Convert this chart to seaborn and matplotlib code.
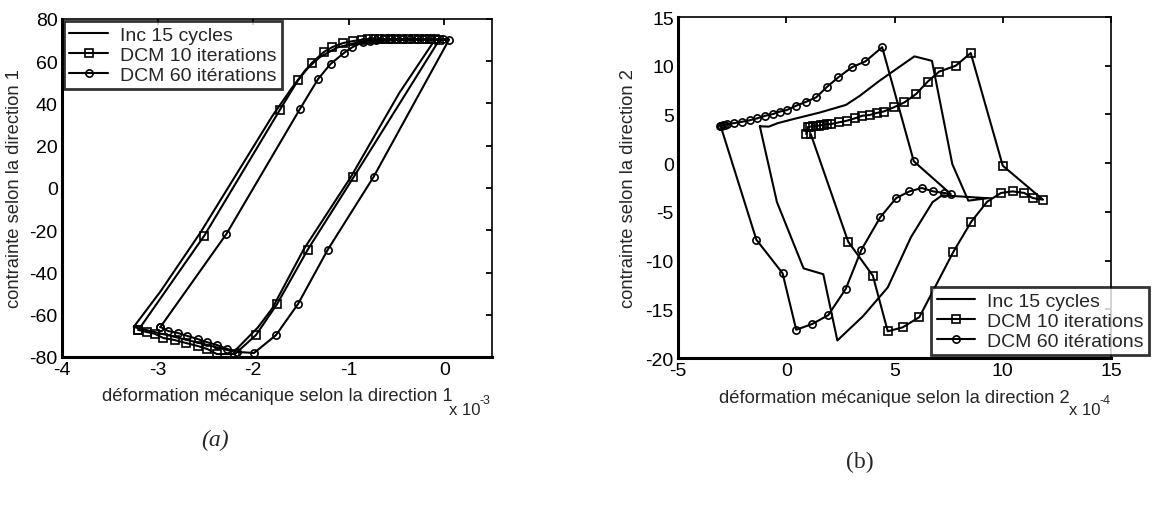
"""Hysteresis loops: incremental vs DCM, directions 1 and 2"""

import numpy as np
import pandas as pd
import matplotlib
matplotlib.use('Agg')
import matplotlib.pyplot as plt
import seaborn as sns

sns.set_style('white')
plt.rcParams['font.family'] = ['Liberation Sans', 'DejaVu Sans']
plt.rcParams['axes.unicode_minus'] = False

labels = ['Inc 15 cycles', 'DCM 10 iterations', 'DCM 60 itérations']

# direction 1 (strain in 1e-3, stress)
inc1_x = [-0.10, -0.47, -0.98, -1.47, -1.80, -1.95, -2.20, -2.70, -3.25, -2.97,
          -2.55, -2.10, -1.80, -1.60, -1.45, -1.30, -1.12, -0.90, -0.50, 0.05, -0.10]
inc1_y = [70, 45, 5, -29, -57, -66, -77.5, -71.8, -65.8, -49,
          -21, 12, 34, 47, 56, 62, 66.5, 69, 70, 70.3, 70]

dcm10_1_x = [-3.20, -2.51, -1.72, -1.53, -1.385, -1.26, -1.17, -1.06, -0.95, -0.86,
             -0.80, -0.74, -0.68, -0.62, -0.56, -0.50, -0.44, -0.38, -0.32, -0.26,
             -0.20, -0.15, -0.10, -0.05, -0.95, -1.43, -1.75, -1.97, -2.19, -2.38,
             -2.48, -2.58, -2.70, -2.82, -2.94, -3.03, -3.11, -3.20]
dcm10_1_y = [-67.2, -22.5, 37, 51, 59.2, 64.4, 66.7, 68.6, 69.6, 70.1,
             70.3, 70.4, 70.5, 70.5, 70.5, 70.5, 70.5, 70.5, 70.5, 70.5,
             70.4, 70.4, 70.3, 70.2, 5, -29.3, -55, -69.6, -78.6, -78.6,
             -76.2, -74.8, -73.4, -72, -71, -69, -68.2, -67.2]

dcm60_1_x = [-2.97, -2.28, -1.51, -1.32, -1.19, -1.05, -0.96, -0.85, -0.78, -0.71,
             -0.64, -0.57, -0.50, -0.43, -0.36, -0.29, -0.22, -0.15, -0.08, -0.01,
             0.05, -0.74, -1.22, -1.53, -1.76, -1.99, -2.17, -2.27, -2.38, -2.48,
             -2.58, -2.69, -2.79, -2.89, -2.97]
dcm60_1_y = [-65.8, -21.8, 37.4, 51.6, 58.7, 63.9, 66.7, 69.0, 69.7, 70.1,
             70.3, 70.4, 70.5, 70.5, 70.5, 70.5, 70.5, 70.4, 70.4, 70.3,
             70.2, 5.2, -29.3, -54.9, -69.6, -78.1, -77.6, -76.2, -74.3, -73,
             -71.5, -70, -68.6, -67.7, -65.8]

# direction 2 (strain in 1e-4, stress)
inc2_x = [-1.22, -0.80, -0.40, 0.34, 1.56, 2.75, 3.39, 4.31, 5.92, 6.73, 7.67, 8.41,
          9.30, 7.20, 6.76, 5.76, 4.69, 3.55, 2.36, 1.71, 0.80, -0.43, -1.22]
inc2_y = [3.78, 3.75, 4.10, 4.53, 5.20, 5.97, 6.90, 8.46, 10.96, 10.5, -0.1, -3.85,
          -3.6, -3.3, -4.0, -7.6, -12.75, -15.7, -18.2, -11.4, -10.8, -4.0, 3.78]

dcm10_2_x = [0.92, 1.00, 1.12, 1.25, 1.38, 1.50, 1.62, 1.75, 1.88, 2.05, 2.44, 2.81,
             3.17, 3.52, 3.85, 4.17, 4.50, 4.97, 5.46, 6.00, 6.53, 7.06, 7.83, 8.52,
             10.0, 11.86, 11.38, 11.0, 10.46, 9.92, 9.28, 8.55, 7.72, 6.15, 5.38,
             4.69, 4.00, 2.86, 1.13]
dcm10_2_y = [3.0, 3.7, 3.75, 3.8, 3.85, 3.85, 3.9, 3.95, 4.0, 4.0, 4.19, 4.36,
             4.6, 4.87, 4.94, 5.15, 5.3, 5.73, 6.24, 7.1, 8.36, 9.39, 10.0, 11.3,
             -0.26, -3.75, -3.58, -3.06, -2.9, -3.06, -3.96, -6.0, -9.1, -15.8, -16.85,
             -17.26, -11.55, -8.06, 3.0]

dcm60_2_x = [-3.08, -3.00, -2.92, -2.84, -2.72, -2.43, -2.03, -1.69, -1.34, -0.96,
             -0.61, -0.28, 0.03, 0.46, 0.92, 1.38, 1.87, 2.40, 3.03, 3.66, 4.43,
             5.89, 7.60, 7.29, 6.79, 6.26, 5.69, 5.08, 4.34, 3.47, 2.75, 1.94, 1.21,
             0.46, -0.17, -1.38, -3.03]
dcm60_2_y = [3.8, 3.85, 3.9, 3.95, 4.0, 4.1, 4.25, 4.4, 4.6, 4.87,
             5.04, 5.3, 5.45, 5.9, 6.3, 6.75, 7.8, 8.8, 9.84, 10.45, 11.9,
             0.19, -3.17, -3.06, -2.9, -2.55, -2.9, -3.58, -5.56, -8.9, -12.9, -15.6, -16.5,
             -17.1, -11.3, -7.86, 3.81]


def loop_frame(x, y, name):
    """Long-form frame for one loop, keeping point order"""
    return pd.DataFrame({'x': x, 'y': y, 'serie': name, 'order': np.arange(len(x))})


def draw_loops(ax, series):
    """Draws the three loops with matlab-like black markers"""
    styles = [None, 's', 'o']
    for (x, y), lab, mk in zip(series, labels, styles):
        df = loop_frame(x, y, lab)
        kw = dict(color='black', lw=1.5)
        if mk is not None:
            kw.update(marker=mk, markersize=5.2, markerfacecolor='none',
                      markeredgecolor='black', markeredgewidth=1.2)
        sns.lineplot(data=df, x='x', y='y', sort=False, estimator=None,
                     ax=ax, label=lab, **kw)


def matlab_axes(ax, xlim, ylim, xticks, yticks):
    ax.set_xlim(*xlim)
    ax.set_ylim(*ylim)
    ax.set_xticks(xticks)
    ax.set_yticks(yticks)
    ax.tick_params(direction='in', length=4, width=1.3, top=True, right=True,
                   labelsize=14, pad=3, colors='black')
    for side in ['top', 'right']:
        ax.spines[side].set_linewidth(1.2)
        ax.spines[side].set_color('black')
    for side in ['bottom', 'left']:
        ax.spines[side].set_linewidth(2.2)
        ax.spines[side].set_color('black')


fig = plt.figure(figsize=(11.53, 5.06), dpi=100)
W, H = 1153, 506
ax1 = fig.add_axes([62 / W, 1 - 358 / H, 430 / W, 338 / H])
ax2 = fig.add_axes([678 / W, 1 - 359 / H, 433 / W, 341 / H])

draw_loops(ax1, [(inc1_x, inc1_y), (dcm10_1_x, dcm10_1_y), (dcm60_1_x, dcm60_1_y)])
draw_loops(ax2, [(inc2_x, inc2_y), (dcm10_2_x, dcm10_2_y), (dcm60_2_x, dcm60_2_y)])

matlab_axes(ax1, (-4, 0.5), (-80, 80), [-4, -3, -2, -1, 0], np.arange(-80, 81, 20))
matlab_axes(ax2, (-5, 15), (-20, 15), [-5, 0, 5, 10, 15], np.arange(-20, 16, 5))

lab_fs = 13.2
ax1.set_xlabel('déformation mécanique selon la direction 1', fontsize=lab_fs)
ax1.set_ylabel('contrainte selon la direction 1', fontsize=lab_fs)
ax2.set_xlabel('déformation mécanique selon la direction 2', fontsize=lab_fs)
ax2.set_ylabel('contrainte selon la direction 2', fontsize=lab_fs)
ax1.xaxis.set_label_coords(0.5, -0.09)
ax2.xaxis.set_label_coords(0.5, -0.09)
ax1.yaxis.set_label_coords(-0.09, 0.5)
ax2.yaxis.set_label_coords(-0.095, 0.5)

leg_kw = dict(frameon=True, fancybox=False, fontsize=14, handlelength=2.0,
              labelspacing=0.12, borderpad=0.28, handletextpad=0.6, borderaxespad=0)
leg1 = ax1.legend(loc='upper left', bbox_to_anchor=(64 / W, 1 - 22 / H),
                  bbox_transform=fig.transFigure, **leg_kw)
leg2 = ax2.legend(loc='lower right', bbox_to_anchor=(1149 / W, 1 - 356 / H),
                  bbox_transform=fig.transFigure, **leg_kw)
for leg in [leg1, leg2]:
    leg.get_frame().set_edgecolor('black')
    leg.get_frame().set_linewidth(2)
    leg.set_zorder(5)

# matlab exponent labels (x 10 with a small raised power)
for x0, power in [(449, '-3'), (1069, '-4')]:
    fig.text(x0 / W, 1 - 415 / H, 'x 10', fontsize=12, ha='left', va='baseline')
    fig.text((x0 + 30) / W, 1 - 404 / H, power, fontsize=9, ha='left', va='baseline')

fig.text(215 / W, 1 - 440 / H, '(a)', fontsize=17, style='italic',
         family=['Liberation Serif', 'DejaVu Serif'], ha='center', va='center')
fig.text(860 / W, 1 - 462 / H, '(b)', fontsize=17,
         family=['Liberation Serif', 'DejaVu Serif'], ha='center', va='center')

fig.savefig('out.png', dpi=100)
